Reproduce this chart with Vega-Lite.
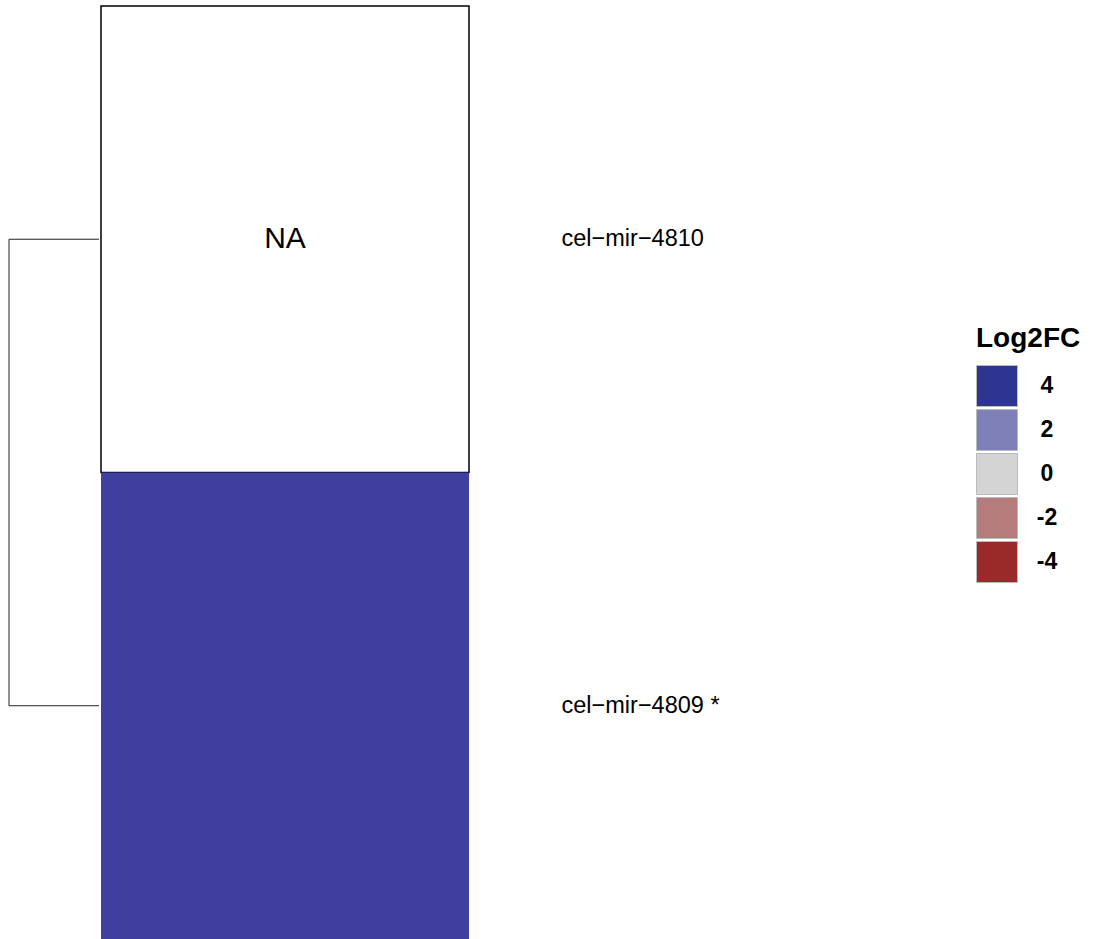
{
  "$schema": "https://vega.github.io/schema/vega-lite/v6.json",
  "padding": 0,
  "background": "white",
  "spacing": 0,
  "config": {"view": {"stroke": null}, "font": "Liberation Sans"},
  "datasets": {
    "cells": [
      {"row": "cel−mir−4810", "sample": "s1", "log2fc": null},
      {"row": "cel−mir−4809 *", "sample": "s1", "log2fc": 3.6}
    ],
    "dendro": [
      {"row": "cel−mir−4810", "h0": 0, "h1": 1},
      {"row": "cel−mir−4809 *", "h0": 0, "h1": 1}
    ],
    "merge": [
      {"h": 1, "left": "cel−mir−4810", "right": "cel−mir−4809 *"}
    ]
  },
  "hconcat": [
    {
      "width": 99,
      "height": 939,
      "layer": [
        {
          "data": {"name": "dendro"},
          "mark": {"type": "rule", "color": "#222222", "strokeWidth": 1},
          "encoding": {
            "x": {"field": "h1", "type": "quantitative", "scale": {"domain": [0, 1.1], "reverse": true, "nice": false, "zero": false}, "axis": null},
            "x2": {"field": "h0"},
            "y": {"field": "row", "type": "nominal", "bandPosition": 0.5, "scale": {"domain": ["cel−mir−4810", "cel−mir−4809 *"], "paddingInner": 0, "paddingOuter": 0.00643, "align": 1}, "axis": null}
          }
        },
        {
          "data": {"name": "merge"},
          "mark": {"type": "rule", "color": "#222222", "strokeWidth": 1},
          "encoding": {
            "x": {"field": "h", "type": "quantitative"},
            "y": {"field": "left", "type": "nominal", "bandPosition": 0.5},
            "y2": {"field": "right", "bandPosition": 0.5}
          }
        }
      ]
    },
    {
      "width": 368,
      "height": 939,
      "data": {"name": "cells"},
      "encoding": {
        "x": {"field": "sample", "type": "nominal", "scale": {"paddingInner": 0, "paddingOuter": 0}, "axis": null},
        "y": {"field": "row", "type": "nominal", "scale": {"domain": ["cel−mir−4810", "cel−mir−4809 *"], "paddingInner": 0, "paddingOuter": 0.00643, "align": 1},
          "axis": {"orient": "right", "title": null, "ticks": false, "domain": false, "labelPadding": 92, "labelFontSize": 23.5, "labelColor": "black", "labelFont": "Liberation Sans", "labelAlign": "left"}}
      },
      "layer": [
        {
          "transform": [{"filter": "datum.log2fc === null"}],
          "mark": {"type": "rect", "fill": "white", "stroke": "black", "strokeWidth": 1.5}
        },
        {
          "transform": [{"filter": "isValid(datum.log2fc)"}],
          "mark": {"type": "rect"},
          "encoding": {
            "color": {
              "field": "log2fc", "type": "quantitative",
              "scale": {"domain": [-4, -2, 0, 2, 3.6, 4], "range": ["#9A2A2A", "#B67C7B", "#D3D4D3", "#8080B8", "#3F3F9F", "#2D3590"]},
              "legend": {
                "type": "symbol", "values": [4, 2, 0, -2, -4],
                "labelExpr": "'' + datum.value",
                "orient": "none", "legendX": 976, "legendY": 325, "padding": 0,
                "title": "Log2FC", "titleFontSize": 28, "titleFontWeight": "bold", "titleColor": "black", "titlePadding": 12,
                "labelFontSize": 23, "labelFontWeight": "bold", "labelColor": "black", "labelAlign": "center", "labelOffset": 29,
                "symbolType": "square", "symbolSize": 1681, "symbolStrokeColor": "#bbbbbb", "symbolStrokeWidth": 1, "symbolOpacity": 1,
                "rowPadding": -2
              }
            }
          }
        },
        {
          "transform": [{"filter": "datum.log2fc === null"}],
          "mark": {"type": "text", "text": "NA", "fontSize": 30, "font": "Liberation Sans", "color": "black", "baseline": "middle", "align": "center"}
        }
      ]
    }
  ]
}
